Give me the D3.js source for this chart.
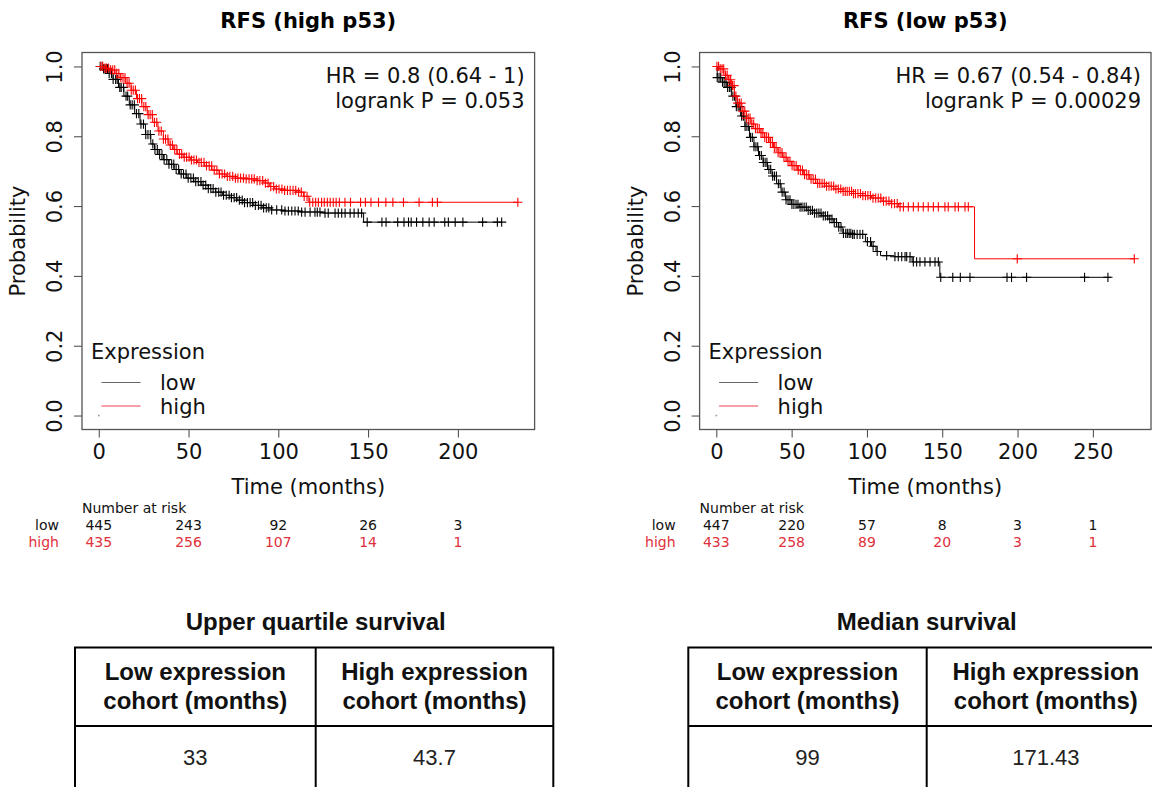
<!DOCTYPE html>
<html>
<head>
<meta charset="utf-8">
<script src="https://cdn.jsdelivr.net/npm/d3@7"></script>
<style>
  html, body { margin: 0; padding: 0; background: #fff; }
  svg { display: block; }
</style>
</head>
<body>
<svg id="fig" width="1152" height="787"></svg>
<script>
// ---------- Kaplan–Meier data: RFS, high p53 subgroup ----------
// step points [time (months), survival probability]
const hiP53LowSteps = [[0,1.0],[2,0.993],[5,0.98],[8,0.963],[11,0.94],[14,0.915],[17,0.89],[20,0.865],[23,0.835],[26,0.805],[29,0.778],[31,0.762],[33,0.748],[36,0.733],[39,0.72],[42,0.705],[45,0.692],[49,0.68],[53,0.67],[57,0.66],[61,0.65],[65,0.64],[69,0.631],[73,0.624],[77,0.617],[81,0.61],[86,0.602],[91,0.595],[96,0.589],[102,0.586],[112,0.583],[125,0.58],[147.5,0.554]];
const hiP53LowEnd = 224.4;
const hiP53HighSteps = [[0,1.0],[3,0.995],[6,0.99],[9,0.98],[12,0.968],[15,0.952],[18,0.932],[21,0.908],[24,0.885],[27,0.862],[30,0.84],[33,0.815],[36,0.792],[39,0.775],[41.5,0.762],[43.7,0.749],[47,0.74],[51,0.732],[55,0.725],[59,0.715],[63,0.703],[67,0.692],[71,0.685],[76,0.68],[82,0.678],[88,0.673],[92,0.666],[95,0.656],[98,0.649],[103,0.645],[110,0.64],[114,0.628],[117,0.611]];
const hiP53HighEnd = 233.4;
// censoring times (months)
const hiP53LowCens = [0.8,1.9,2.7,3.6,4.9,5.8,7.1,8.0,9.4,10.3,11.7,12.5,13.8,15.2,16.1,17.5,18.6,19.8,21.0,22.3,23.5,24.9,26.2,27.4,28.7,30.1,31.3,32.6,33.9,35.2,36.4,37.9,39.1,40.6,41.8,43.1,44.5,45.9,47.2,48.6,49.8,51.3,52.7,54.0,55.4,56.9,58.1,59.6,61.0,62.4,63.7,65.2,66.8,68.1,69.5,71.0,72.6,73.9,75.4,76.8,78.3,79.9,81.2,82.8,84.3,85.7,87.2,88.9,90.4,91.8,93.3,94.7,96.3,99.1,101.9,103.7,105.6,107.5,109.3,111.1,113,114.9,117.7,120.4,121.7,123.2,126,127.8,131.6,133.4,135.3,137.2,140,142.2,144.5,146.4,149.5,157.7,160,166.5,170,172.5,174,177,180.5,184,186.8,192.7,194.7,198.5,202.8,213.8,222,224.4];
const hiP53HighCens = [1.1,2.2,3.4,4.3,5.5,6.6,7.8,8.9,10.0,11.2,12.3,13.5,14.6,15.8,16.9,18.1,19.2,20.4,21.6,22.7,23.9,25.1,26.2,27.5,28.6,29.8,31.0,32.3,33.5,34.8,36.0,37.2,38.5,39.8,41.0,42.3,43.5,44.9,46.2,47.6,48.9,50.3,51.6,53.0,54.4,55.8,57.1,58.6,60.0,61.5,62.9,64.3,65.8,67.2,68.7,70.1,71.6,73.0,74.6,76.1,77.5,79.0,80.6,82.1,83.7,85.2,86.6,88.2,89.7,91.3,92.8,94.3,95.8,97.4,98.9,100.4,102.0,103.5,105.1,106.6,108.2,109.7,111.3,112.8,114.4,116.0,117.5,119.2,120.8,122.3,124.1,125.6,127.3,128.9,130.6,132.2,134.0,137.1,140.2,145.8,148.5,151.6,155.8,159.9,163.8,169.7,178.4,185.8,188.6,233.4];
const hiP53RiskTimes = [0, 50, 100, 150, 200];
const hiP53RiskLow = [445, 243, 92, 26, 3];
const hiP53RiskHigh = [435, 256, 107, 14, 1];

// ---------- Kaplan–Meier data: RFS, low p53 subgroup ----------
const loP53LowSteps = [[0,1.0],[0.6,0.968],[4,0.955],[7,0.94],[10,0.915],[13,0.885],[16,0.858],[19,0.828],[22,0.797],[25,0.77],[28,0.745],[31,0.725],[34,0.705],[37,0.686],[40,0.664],[43,0.64],[46,0.618],[50,0.605],[55,0.597],[60,0.588],[65,0.58],[70,0.572],[74,0.563],[78,0.553],[81,0.54],[84,0.522],[90,0.519],[99,0.498],[103,0.485],[106,0.47],[109,0.458],[118,0.455],[130,0.44],[148.4,0.396]];
const loP53LowEnd = 262;
const loP53HighSteps = [[0,1.0],[2,0.993],[5,0.975],[8,0.962],[10,0.945],[12,0.915],[14,0.895],[17,0.872],[20,0.852],[23,0.835],[26,0.822],[29,0.81],[32,0.797],[35,0.782],[38,0.768],[41,0.753],[44,0.74],[47,0.728],[50,0.716],[54,0.703],[58,0.69],[62,0.677],[67,0.665],[72,0.657],[78,0.649],[84,0.642],[91,0.636],[97,0.63],[103,0.623],[110,0.614],[116,0.607],[121,0.598],[171.43,0.449]];
const loP53HighEnd = 277.5;
const loP53LowCens = [0.6,1.8,2.9,4.1,5.2,6.4,7.5,8.7,9.8,11.0,12.1,13.3,14.5,15.6,16.8,18.0,19.1,20.3,21.5,22.7,23.9,25.0,26.3,27.5,28.7,29.9,31.2,32.4,33.6,34.9,36.1,37.4,38.6,39.9,41.2,42.4,43.7,45.0,46.3,47.6,48.9,50.2,51.5,52.9,54.2,55.6,56.9,58.3,59.7,61.0,62.4,63.8,65.2,66.7,68.1,69.5,71.0,72.4,73.9,75.3,76.8,78.3,79.8,81.3,82.8,84.4,85.9,87.0,88.2,89.3,90.5,91.6,93.5,95.4,97.2,100.3,102.4,104.1,106.8,113.1,118.6,120.8,123.1,125.3,126.4,128.6,130.8,133,135.2,138.5,141.9,145.2,147.4,149,157,162,168.4,193,196,206,244.5,260];
const loP53HighCens = [0.4,1.5,2.6,3.8,4.9,6.1,7.2,8.4,9.5,10.7,11.8,13.0,14.2,15.3,16.5,17.7,18.9,20.0,21.2,22.4,23.6,24.8,26.0,27.2,28.5,29.7,30.9,32.2,33.4,34.7,35.9,37.2,38.5,39.7,41.0,42.3,43.6,44.9,46.3,47.6,48.9,50.3,51.6,53.0,54.4,55.8,57.2,58.6,60.0,61.4,62.9,64.3,65.8,67.3,68.7,70.2,71.7,73.2,74.8,76.3,77.9,79.4,81.0,82.6,84.2,85.6,86.9,88.3,89.8,91.1,92.4,94.0,95.7,97.3,99.0,100.6,102.3,104.0,105.8,107.5,109.2,111.0,112.8,114.6,116.4,118.3,120.1,122.0,124.2,127.5,130.8,134.1,137.4,140.7,144.1,147.4,151.8,154,158.5,160.7,165.1,167.3,199.8,277.5];
const loP53RiskTimes = [0, 50, 100, 150, 200, 250];
const loP53RiskLow = [447, 220, 57, 8, 3, 1];
const loP53RiskHigh = [433, 258, 89, 20, 3, 1];

// ---------- axis ticks ----------
const yTicks = [0, 0.2, 0.4, 0.6, 0.8, 1.0];
const groupNames = ["low", "high"];

// ---------- summary tables ----------
const tableHeaders = [["Low expression", "cohort (months)"], ["High expression", "cohort (months)"]];
const upperQuartileTitle = "Upper quartile survival";
const upperQuartileValues = ["33", "43.7"];
const medianTitle = "Median survival";
const medianValues = ["99", "171.43"];

// ---------- drawing ----------
const svg = d3.select("#fig");
const PLOT_FONT = "'DejaVu Sans', sans-serif";
const TABLE_FONT = "'Liberation Sans', Arial, sans-serif";
const RED = "#ff0000";
const RED_TEXT = "#e0303a";

const panels = [
  { title: "RFS (high p53)", hr: "HR = 0.8 (0.64 - 1)", p: "logrank P = 0.053",
    low: hiP53LowSteps, lowEnd: hiP53LowEnd, high: hiP53HighSteps, highEnd: hiP53HighEnd,
    lowCens: hiP53LowCens, highCens: hiP53HighCens,
    riskTimes: hiP53RiskTimes, riskLow: hiP53RiskLow, riskHigh: hiP53RiskHigh,
    left: 82, right: 534.6, rowLabelGap: 23 },
  { title: "RFS (low p53)", hr: "HR = 0.67 (0.54 - 0.84)", p: "logrank P = 0.00029",
    low: loP53LowSteps, lowEnd: loP53LowEnd, high: loP53HighSteps, highEnd: loP53HighEnd,
    lowCens: loP53LowCens, highCens: loP53HighCens,
    riskTimes: loP53RiskTimes, riskLow: loP53RiskLow, riskHigh: loP53RiskHigh,
    left: 699.6, right: 1151, rowLabelGap: 24 }
];

const plotTop = 52.5, plotBottom = 429.5;

panels.forEach(pn => {
  const tMax = Math.max(pn.lowEnd, pn.highEnd);
  const x = d3.scaleLinear().domain([-0.04 * tMax, 1.04 * tMax]).range([pn.left, pn.right]);
  const y = d3.scaleLinear().domain([-0.04, 1.04]).range([plotBottom, plotTop]);
  const g = svg.append("g");
  const cx = (pn.left + pn.right) / 2;

  // title
  g.append("text").attr("x", cx).attr("y", 28)
    .attr("text-anchor", "middle").attr("font-family", PLOT_FONT)
    .attr("font-weight", "bold").attr("font-size", 21).text(pn.title);

  // x axis
  const xAxis = g.append("g").attr("transform", `translate(0,${plotBottom})`)
    .call(d3.axisBottom(x).tickValues(pn.riskTimes).tickSize(8).tickPadding(7).tickFormat(d3.format("d")));
  xAxis.select(".domain").remove();
  xAxis.selectAll("line").attr("stroke", "#444");
  xAxis.selectAll("text").attr("font-family", PLOT_FONT).attr("font-size", 21).attr("fill", "#111");

  // y axis with labels parallel to the axis
  const yAxis = g.append("g").attr("transform", `translate(${pn.left},0)`)
    .call(d3.axisLeft(y).tickValues(yTicks).tickSize(8).tickFormat(d3.format(".1f")));
  yAxis.select(".domain").remove();
  yAxis.selectAll("line").attr("stroke", "#444");
  yAxis.selectAll("text")
    .attr("x", null).attr("dy", null)
    .attr("text-anchor", "middle")
    .attr("transform", "translate(-20,0) rotate(-90)")
    .attr("font-family", PLOT_FONT).attr("font-size", 21).attr("fill", "#111");

  // axis titles
  g.append("text").attr("x", cx).attr("y", 494).attr("text-anchor", "middle")
    .attr("font-family", PLOT_FONT).attr("font-size", 21).attr("fill", "#111").text("Time (months)");
  g.append("text").attr("transform", `translate(${pn.left - 57},${(plotTop + plotBottom) / 2}) rotate(-90)`)
    .attr("text-anchor", "middle").attr("font-family", PLOT_FONT).attr("font-size", 21)
    .attr("fill", "#111").text("Probability");

  // plot frame
  g.append("rect").attr("x", pn.left).attr("y", plotTop)
    .attr("width", pn.right - pn.left).attr("height", plotBottom - plotTop)
    .attr("fill", "none").attr("stroke", "#555").attr("stroke-width", 1.3);

  // survival step curves with censoring crosses
  const line = d3.line().x(d => x(d[0])).y(d => y(d[1])).curve(d3.curveStepAfter);
  const withEnd = (steps, end) => steps.concat([[end, steps[steps.length - 1][1]]]);
  const survAt = (steps, t) => {
    const i = d3.bisector(d => d[0]).right(steps, t) - 1;
    return steps[Math.max(0, i)][1];
  };
  const plus = (t, s) => {
    const px = x(t), py = y(s), h = 4.6;
    return `M${px - h},${py}H${px + h}M${px},${py - h}V${py + h}`;
  };

  [["low", "#000"], ["high", RED]].forEach(([key, col]) => {
    const steps = pn[key], end = pn[key + "End"], cens = pn[key + "Cens"];
    g.append("path").attr("d", line(withEnd(steps, end)))
      .attr("fill", "none").attr("stroke", col).attr("stroke-width", 1);
    g.append("path").attr("d", cens.map(t => plus(t, survAt(steps, t))).join(""))
      .attr("fill", "none").attr("stroke", col).attr("stroke-width", 1.1);
  });

  // small point at the origin
  g.append("rect").attr("x", x(0) - 0.8).attr("y", y(0) - 0.8)
    .attr("width", 1.6).attr("height", 1.6).attr("fill", "#999");

  // hazard ratio annotation
  g.append("text").attr("x", pn.right - 10).attr("y", 83).attr("text-anchor", "end")
    .attr("font-family", PLOT_FONT).attr("font-size", 21).attr("fill", "#111").text(pn.hr);
  g.append("text").attr("x", pn.right - 10).attr("y", 108).attr("text-anchor", "end")
    .attr("font-family", PLOT_FONT).attr("font-size", 21).attr("fill", "#111").text(pn.p);

  // legend
  g.append("text").attr("x", pn.left + 9).attr("y", 359)
    .attr("font-family", PLOT_FONT).attr("font-size", 21).attr("fill", "#111").text("Expression");
  groupNames.forEach((name, i) => {
    const ly = 382.5 + i * 23.5;
    g.append("line").attr("x1", pn.left + 19.5).attr("x2", pn.left + 58.5)
      .attr("y1", ly).attr("y2", ly)
      .attr("stroke", i === 0 ? "#666" : "#f04050").attr("stroke-width", 1.2);
    g.append("text").attr("x", pn.left + 78).attr("y", ly + 7.5)
      .attr("font-family", PLOT_FONT).attr("font-size", 21).attr("fill", "#111").text(name);
  });

  // number at risk table
  g.append("text").attr("x", pn.left).attr("y", 512.5)
    .attr("font-family", PLOT_FONT).attr("font-size", 14).attr("fill", "#111").text("Number at risk");
  [[pn.riskLow, "#111"], [pn.riskHigh, RED_TEXT]].forEach(([vals, col], i) => {
    const ry = 530 + i * 16.5;
    g.append("text").attr("x", pn.left - pn.rowLabelGap).attr("y", ry).attr("text-anchor", "end")
      .attr("font-family", PLOT_FONT).attr("font-size", 14).attr("fill", col).text(groupNames[i]);
    g.selectAll(null).data(vals).join("text")
      .attr("x", (d, j) => x(pn.riskTimes[j])).attr("y", ry).attr("text-anchor", "middle")
      .attr("font-family", PLOT_FONT).attr("font-size", 14).attr("fill", col).text(d => d);
  });
});

// ---------- survival summary tables ----------
function drawTable(title, values, left, mid, right) {
  const g = svg.append("g");
  const tTop = 647.5, divY = 726, tBottom = 800;
  g.append("text").attr("x", mid).attr("y", 630).attr("text-anchor", "middle")
    .attr("font-family", TABLE_FONT).attr("font-weight", "bold").attr("font-size", 24)
    .attr("fill", "#111").text(title);
  const cols = [(left + mid) / 2, (mid + right) / 2];
  g.append("rect").attr("x", left).attr("y", tTop).attr("width", right - left)
    .attr("height", tBottom - tTop).attr("fill", "none").attr("stroke", "#000").attr("stroke-width", 2);
  g.append("line").attr("x1", mid).attr("x2", mid).attr("y1", tTop).attr("y2", tBottom)
    .attr("stroke", "#000").attr("stroke-width", 2);
  g.append("line").attr("x1", left).attr("x2", right).attr("y1", divY).attr("y2", divY)
    .attr("stroke", "#000").attr("stroke-width", 2);
  tableHeaders.forEach((lines, i) => {
    lines.forEach((ln, k) => {
      g.append("text").attr("x", cols[i]).attr("y", 680 + k * 29).attr("text-anchor", "middle")
        .attr("font-family", TABLE_FONT).attr("font-weight", "bold").attr("font-size", 24)
        .attr("fill", "#111").text(ln);
    });
    g.append("text").attr("x", cols[i]).attr("y", 765).attr("text-anchor", "middle")
      .attr("font-family", TABLE_FONT).attr("font-size", 22).attr("fill", "#222").text(values[i]);
  });
}
drawTable(upperQuartileTitle, upperQuartileValues, 75, 315.7, 553.3);
drawTable(medianTitle, medianValues, 688.3, 926.7, 1165);
</script>
</body>
</html>
